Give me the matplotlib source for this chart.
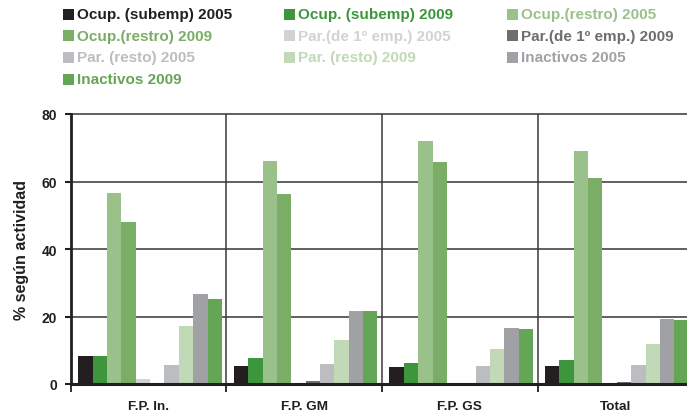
import matplotlib
matplotlib.use("Agg")
import matplotlib.pyplot as plt
from matplotlib.patches import Rectangle
import numpy as np

plt.rcParams['font.family'] = ['Liberation Sans', 'DejaVu Sans']
plt.rcParams['font.weight'] = 'bold'

groups = ["F.P. In.", "F.P. GM", "F.P. GS", "Total"]
series = ["Ocup. (subemp) 2005", "Ocup. (subemp) 2009", "Ocup.(restro) 2005",
          "Ocup.(restro) 2009", "Par.(de 1º emp.) 2005", "Par.(de 1º emp.) 2009",
          "Par. (resto) 2005", "Par. (resto) 2009", "Inactivos 2005", "Inactivos 2009"]
colors = ["#231f20", "#3d953c", "#9bc18b", "#7aad66", "#d1d2d4",
          "#6d6e72", "#bcbdc1", "#c1d9b7", "#a0a1a5", "#65a556"]

# one list per series, values per group
ocup_sub_2005 = [8.2, 5.3, 5.1, 5.3]
ocup_sub_2009 = [8.2, 7.7, 6.3, 7.1]
ocup_res_2005 = [56.6, 66.0, 72.0, 69.0]
ocup_res_2009 = [48.1, 56.2, 65.8, 61.0]
par_1emp_2005 = [1.5, 0.2, 0.1, 0.2]
par_1emp_2009 = [0.4, 0.9, 0.1, 0.5]
par_res_2005 = [5.6, 6.0, 5.4, 5.7]
par_res_2009 = [17.3, 13.1, 10.4, 11.9]
inact_2005 = [26.8, 21.7, 16.7, 19.3]
inact_2009 = [25.3, 21.7, 16.4, 19.1]
values = [ocup_sub_2005, ocup_sub_2009, ocup_res_2005, ocup_res_2009,
          par_1emp_2005, par_1emp_2009, par_res_2005, par_res_2009,
          inact_2005, inact_2009]
yticks = [0, 20, 40, 60, 80]

W, H = 687, 414
fig = plt.figure(figsize=(W / 100, H / 100), dpi=100)
ax = fig.add_axes([70.7 / W, 1 - 385 / H, 1 - 70.7 / W, (385 - 115) / H])

x = np.arange(len(groups))
w = 0.0923
off = 0.01
for k, (vals, c) in enumerate(zip(values, colors)):
    ax.bar(x + off + (k - 4.5) * w, vals, width=w, color=c, linewidth=0, zorder=3)

ax.set_ylim(0, 80)
ax.set_xlim(-0.5, -0.5 + (W - 70.7) / 155.6)

# grid lines and group separators
for yv in yticks[1:]:
    ax.axhline(yv, color="#444444", lw=1.2, zorder=2, clip_on=False)
for xb in [0.5, 1.5, 2.5]:
    ax.axvline(xb, color="#3a3a3a", lw=1.1, zorder=2)

for s in ["top", "right"]:
    ax.spines[s].set_visible(False)
ax.spines["left"].set_linewidth(2.0)
ax.spines["left"].set_color("#231f20")
ax.spines["bottom"].set_linewidth(2.2)
ax.spines["bottom"].set_color("#231f20")
ax.spines["left"].set_zorder(4)
ax.spines["bottom"].set_zorder(4)

ax.set_yticks(yticks)
ax.set_yticklabels([str(v) for v in yticks], fontsize=10, fontweight="bold", color="#231f20")
ax.tick_params(axis="y", direction="out", length=4, width=1.5, color="#231f20", pad=6)

ax.set_xticks(x)
ax.set_xticklabels(groups, fontsize=9.7, fontweight="bold", color="#231f20")
ax.tick_params(axis="x", which="major", length=0, pad=11.5)
ax.set_xticks([-0.5, 0.5, 1.5, 2.5], minor=True)
ax.tick_params(axis="x", which="minor", direction="out", length=6, width=1.3, color="#231f20")

ax.set_ylabel("% según actividad", fontsize=11.5, fontweight="bold", color="#231f20", labelpad=9)

# legend laid out row by row, text in the series colour
col_x = [63, 284, 507]
row_y = [15, 36.5, 58, 80]
for i, (lab, c) in enumerate(zip(series, colors)):
    r, cidx = divmod(i, 3)
    px, py = col_x[cidx], row_y[r]
    fig.patches.append(Rectangle((px / W, 1 - (py + 5.5) / H), 11 / W, 11 / H,
                                 transform=fig.transFigure, facecolor=c, edgecolor="none"))
    fig.text((px + 14) / W, 1 - py / H, lab, fontsize=11, fontweight="bold",
             color=c, va="center", ha="left")

fig.savefig("out.png", dpi=100)
